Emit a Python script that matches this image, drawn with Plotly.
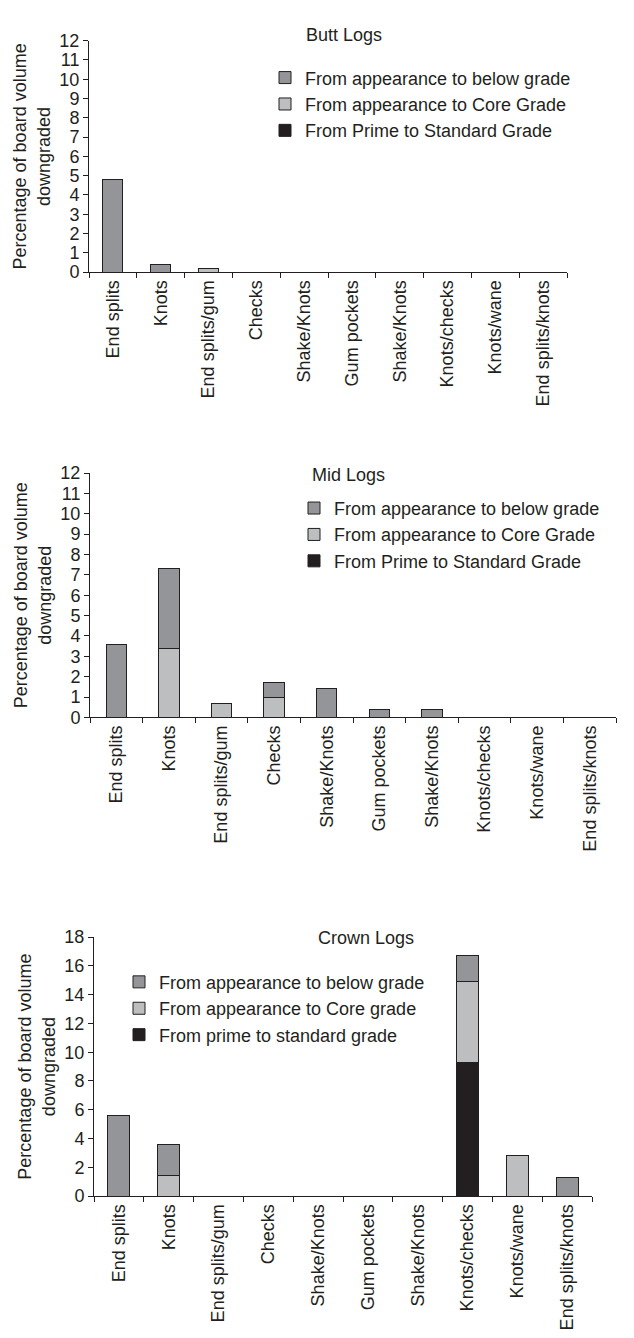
import plotly.graph_objects as go

categories = ["End splits", "Knots", "End splits/gum", "Checks", "Shake/Knots",
              "Gum pockets", "Shake/Knots", "Knots/checks", "Knots/wane", "End splits/knots"]

# Butt logs
butt_below = [4.8, 0.4, 0, 0, 0, 0, 0, 0, 0, 0]
butt_core = [0, 0, 0.2, 0, 0, 0, 0, 0, 0, 0]
butt_prime = [0, 0, 0, 0, 0, 0, 0, 0, 0, 0]

# Mid logs
mid_below = [3.6, 3.9, 0, 0.7, 1.4, 0.4, 0.4, 0, 0, 0]
mid_core = [0, 3.4, 0.7, 1.0, 0, 0, 0, 0, 0, 0]
mid_prime = [0, 0, 0, 0, 0, 0, 0, 0, 0, 0]

# Crown logs
crown_below = [5.6, 2.2, 0, 0, 0, 0, 0, 1.8, 0, 1.3]
crown_core = [0, 1.4, 0, 0, 0, 0, 0, 5.6, 2.8, 0]
crown_prime = [0, 0, 0, 0, 0, 0, 0, 9.3, 0, 0]

names_bm = ["From Prime to Standard Grade", "From appearance to Core Grade",
            "From appearance to below grade"]
names_c = ["From prime to standard grade", "From appearance to Core grade",
           "From appearance to below grade"]

C_BELOW = "#939598"
C_CORE = "#bcbec0"
C_PRIME = "#231f20"
TXT = "#231f20"
FONT = "Arial, Liberation Sans, sans-serif"

W, H = 634, 1338
def px(x): return x / W
def py(y): return 1 - y / H

panels = [
    dict(title="Butt Logs", data=[butt_prime, butt_core, butt_below], names=names_bm,
         x0=81, x1=559, ytop=23, ybot=258, ymax=12, dtick=1, width=0.42,
         title_xy=(336, 17), leg_xy=(257, 42)),
    dict(title="Mid Logs", data=[mid_prime, mid_core, mid_below], names=names_bm,
         x0=82, x1=608, ytop=462, ybot=710, ymax=12, dtick=1, width=0.39,
         title_xy=(340, 464), leg_xy=(286, 479)),
    dict(title="Crown Logs", data=[crown_prime, crown_core, crown_below], names=names_c,
         x0=86, x1=584, ytop=933, ybot=1196, ymax=18, dtick=2, width=0.44,
         title_xy=(358, 934), leg_xy=(111, 960)),
]
colors = [C_PRIME, C_CORE, C_BELOW]

fig = go.Figure()
layout = dict(width=W, height=H, margin=dict(l=0, r=0, t=0, b=0),
              paper_bgcolor="white", plot_bgcolor="white", barmode="stack",
              font=dict(family=FONT, size=18, color=TXT), annotations=[])

xpos = list(range(len(categories)))
for i, p in enumerate(panels):
    k = "" if i == 0 else str(i + 1)
    leg = "legend" + k
    for vals, nm, col in zip(p["data"], p["names"], colors):
        fig.add_trace(go.Bar(x=xpos, y=vals, name=nm, width=p["width"],
                             marker=dict(color=col, line=dict(color="#231f20", width=1)),
                             xaxis="x" + k, yaxis="y" + k, legend=leg, showlegend=True))
    layout["xaxis" + k] = dict(
        domain=[px(p["x0"]), px(p["x1"])], anchor="y" + k, range=[-0.5, 9.5],
        tickmode="array", tickvals=xpos, ticktext=categories, tickangle=-90,
        ticks="", showline=True, linecolor="#231f20", linewidth=1, showgrid=False,
        zeroline=False, tickfont=dict(size=18, color=TXT),
        minor=dict(tickmode="linear", tick0=0.5, dtick=1, ticks="outside",
                   ticklen=5, tickcolor="#231f20", tickwidth=1, showgrid=False))
    layout["yaxis" + k] = dict(
        domain=[py(p["ybot"]), py(p["ytop"])], anchor="x" + k, range=[0, p["ymax"]],
        dtick=p["dtick"], ticks="outside", ticklen=5, tickcolor="#231f20",
        showline=True, linecolor="#231f20", linewidth=1, showgrid=False, zeroline=False,
        tickfont=dict(size=18, color=TXT),
        title=dict(text="Percentage of board volume<br>downgraded",
                   font=dict(size=18, color=TXT), standoff=4))
    layout[leg] = dict(x=px(p["leg_xy"][0]), y=py(p["leg_xy"][1]), xanchor="left",
                       yanchor="top", traceorder="reversed", bgcolor="rgba(0,0,0,0)",
                       font=dict(size=18, color=TXT), itemwidth=30, tracegroupgap=0)
    layout["annotations"].append(dict(
        text=p["title"], x=px(p["title_xy"][0]), y=py(p["title_xy"][1]),
        xref="paper", yref="paper", showarrow=False, xanchor="center", yanchor="middle",
        font=dict(size=18, color=TXT)))

fig.update_layout(**layout)
fig.write_html("out.html")
